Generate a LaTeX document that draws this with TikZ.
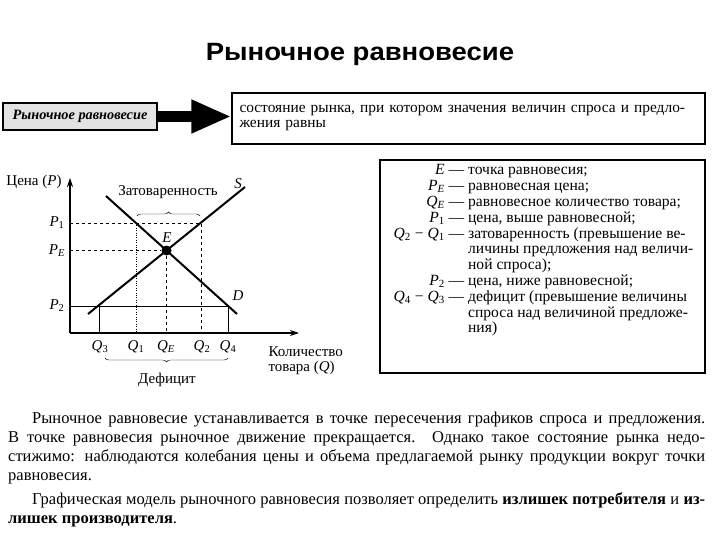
\documentclass[tikz,border=0pt]{standalone}
\usepackage{fontspec}
\setmainfont{Liberation Serif}
\newfontfamily\titlefont{Liberation Sans}[FakeStretch=1.1]
\usepackage{tikz}
\usetikzlibrary{arrows.meta, positioning, decorations.pathreplacing}
\newcommand{\sym}[2]{\textit{#1}\textsubscript{#2}}

\begin{document}
\begin{tikzpicture}[
  x=1pt, y=-1pt,
  term/.style={rectangle, draw, line width=1.2pt, fill=gray!22, minimum width=154pt,
               minimum height=27pt, font=\fontsize{14.3}{16}\selectfont\bfseries\itshape},
  defn/.style={rectangle, draw, line width=1.2pt, text width=458pt, inner xsep=7.5pt,
               minimum height=51pt, align=left, font=\fontsize{15.4}{15}\selectfont},
  legendbox/.style={rectangle, draw, line width=1.2pt, minimum width=325pt, minimum height=213pt},
  bigarrow/.style={line width=11pt, -{Triangle[length=40pt, width=31pt]}},
  axis/.style={line width=1.1pt, -{Stealth[length=9pt, width=6pt]}},
  curve/.style={line width=2pt},
  guide/.style={dashed, thin},
  dot/.style={circle, fill, inner sep=0pt, minimum size=10pt},
  lbl/.style={font=\fontsize{15}{15}\selectfont},
  brace/.style={decorate, decoration={brace, amplitude=4pt}, thin}
]
  \useasboundingbox (0,0) rectangle (720,540);

  % Заголовок и определение
  \node[font=\titlefont\fontsize{25}{30}\selectfont\bfseries, anchor=base] (title) at (360,61) {Рыночное равновесие};
  \node[term] (term) at (80,116.5) {Рыночное равновесие};
  \node[defn] (defn) at (468.5,118.5) {состояние рынка, при котором значения величин спроса и предло-\\жения равны};
  \draw[bigarrow] (term.east) -- (term.east -| defn.west);

  % График
  \coordinate (O) at (70,333);
  \coordinate (ytip) at (70,178);
  \coordinate (xtip) at (299,333);
  \coordinate (S0) at (88,314);
  \coordinate (S1) at (245,187);
  \coordinate (D0) at (106,196);
  \coordinate (D1) at (237,314);
  \coordinate (A1) at (136,223);
  \coordinate (A2) at (201,223);
  \coordinate (B3) at (99,306);
  \coordinate (B4) at (228,306);

  \draw[guide] (O |- A2) -- (A2) -- (A2 |- O);
  \draw[dotted, thin] (A1) -- (A1 |- O);
  \draw[thin] (O |- B4) -- (B4) -- (B4 |- O);
  \draw[thin] (B3) -- (B3 |- O);
  \draw[axis] (O) -- (ytip);
  \draw[axis] (O) -- (xtip);
  \draw[curve] (S0) -- (S1);
  \draw[curve] (D0) -- (D1);
  \node[dot] (E) at (166.5,250.5) {};
  \draw[guide] (O |- E) -- (E) -- (E |- O);

  \node[lbl] (price) at (34,182) {Цена (\textit{P})};
  \node[lbl] (lblS) at (238,184) {\textit{S}};
  \node[lbl] (lblD) at (238,296) {\textit{D}};
  \node[lbl] (lblE) at (167,238) {\textit{E}};
  \node[lbl] (p1) at (57,223) {\sym{P}{1}};
  \node[lbl] (pe) at (57,251) {\sym{P}{\textit{E}}};
  \node[lbl] (p2) at (57,306) {\sym{P}{2}};
  \node[lbl] (q3) at (100,347) {\sym{Q}{3}};
  \node[lbl] (q1) at (136,347) {\sym{Q}{1}};
  \node[lbl] (qe) at (166,347) {\sym{Q}{\textit{E}}};
  \node[lbl] (q2) at (202,347) {\sym{Q}{2}};
  \node[lbl] (q4) at (228,347) {\sym{Q}{4}};
  \node[lbl, anchor=west, align=left] (qty) at (265,361) {Количество\\товара (\textit{Q})};

  \draw[brace] (137,216) -- (200,216);
  \node[lbl] (surplus) at (168,192) {Затоваренность};
  \draw[brace] (228,358) -- (105,358);
  \node[lbl] (deficit) at (167,380) {Дефицит};

  % Обозначения
  \node[legendbox] (legbox) at (542.5,266.5) {};
  \node[anchor=base, font=\fontsize{15.6}{15.8}\selectfont] (legend) at (543.5,175) {%
    \begin{tabular}[t]{@{}r@{\ }l@{}}
      \textit{E} — & точка равновесия;\\
      \sym{P}{\textit{E}} — & равновесная цена;\\
      \sym{Q}{\textit{E}} — & равновесное количество товара;\\
      \sym{P}{1} — & цена, выше равновесной;\\
      \sym{Q}{2} − \sym{Q}{1} — & затоваренность (превышение ве-\\
       & личины предложения над величи-\\
       & ной спроса);\\
      \sym{P}{2} — & цена, ниже равновесной;\\
      \sym{Q}{4} − \sym{Q}{3} — & дефицит (превышение величины\\
       & спроса над величиной предложе-\\
       & ния)
    \end{tabular}};

  % Текст
  \node[anchor=base west, text width=697pt, align=justify, inner sep=0pt,
        font=\fontsize{16.5}{19}\selectfont] (para) at (8,423) {%
    \tolerance=10000\hspace*{24pt}Рыночное равновесие устанавливается в точке пересечения графиков спроса и предложения.\linebreak
    В точке равновесия рыночное движение прекращается. Однако такое состояние рынка недо-\linebreak
    стижимо: наблюдаются колебания цены и объема предлагаемой рынку продукции вокруг точки\linebreak
    равновесия.\par\vspace{5pt}
    \hspace*{24pt}Графическая модель рыночного равновесия позволяет определить \textbf{излишек потребителя} и \textbf{из-}\linebreak
    \textbf{лишек производителя}.};
\end{tikzpicture}
\end{document}
